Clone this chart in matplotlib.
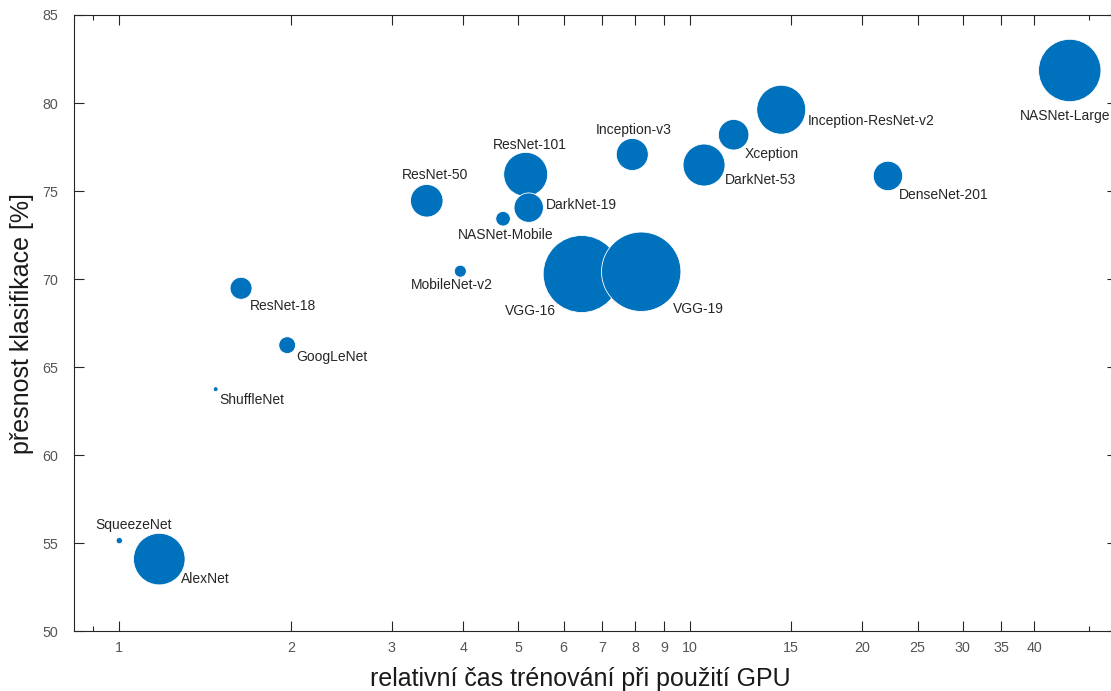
import numpy as np
import matplotlib
matplotlib.use("Agg")
import matplotlib.pyplot as plt
from matplotlib.ticker import FixedLocator, NullFormatter, FixedFormatter

# ---- data ----
site = ["SqueezeNet", "AlexNet", "ShuffleNet", "GoogLeNet", "ResNet-18",
        "ResNet-50", "ResNet-101", "DarkNet-19", "NASNet-Mobile", "MobileNet-v2",
        "VGG-16", "VGG-19", "Inception-v3", "DarkNet-53", "Xception",
        "Inception-ResNet-v2", "DenseNet-201", "NASNet-Large"]
cas = [1.0, 1.175, 1.475, 1.968, 1.634,
       3.455, 5.149, 5.212, 4.70, 3.956,
       6.453, 8.204, 7.914, 10.57, 11.91,
       14.43, 22.19, 46.19]
presnost = [55.15, 54.10, 63.75, 66.25, 69.48,
            74.45, 75.95, 74.06, 73.43, 70.45,
            70.29, 70.42, 77.08, 76.48, 78.20,
            79.62, 75.86, 81.85]
velikost = [3.5, 231, 2.0, 24.5, 42,
            92, 168, 75, 18.5, 12.5,
            515, 547, 89, 153, 81,
            208, 75, 338]

x_ticks = [1, 2, 3, 4, 5, 6, 7, 8, 9, 10, 15, 20, 25, 30, 35, 40]
x_minor = [0.9, 50]
y_ticks = [50, 55, 60, 65, 70, 75, 80, 85]

# label offsets in pixels (dx, dy) from bubble centre to label left/centre
offsets = {
    "SqueezeNet": (-24, -16), "AlexNet": (22, 20), "ShuffleNet": (4, 11),
    "GoogLeNet": (9, 12), "ResNet-18": (9, 18), "ResNet-50": (-25, -26),
    "ResNet-101": (-33, -29), "DarkNet-19": (17, -3), "NASNet-Mobile": (-45, 16),
    "MobileNet-v2": (-49, 14), "VGG-16": (-77, 37), "VGG-19": (32, 37),
    "Inception-v3": (-37, -24), "DarkNet-53": (21, 15), "Xception": (11, 19),
    "Inception-ResNet-v2": (27, 11), "DenseNet-201": (11, 19), "NASNet-Large": (-50, 46),
}

DPI = 100
W, H = 1111, 691
plt.rcParams['font.family'] = ['Liberation Sans', 'DejaVu Sans']

fig = plt.figure(figsize=(W / DPI, H / DPI), dpi=DPI)
ax_l, ax_r, ax_t, ax_b = 73.7, 1116.5, 15.0, 631.3
ax = fig.add_axes([ax_l / W, (H - ax_b) / H, (ax_r - ax_l) / W, (ax_b - ax_t) / H])

# bubble radius in px ~ sqrt(size * 2.88); convert to points^2 marker area
r_px = np.sqrt(np.array(velikost) * 2.88)
s = (2 * r_px * 72 / DPI) ** 2
ax.scatter(cas, presnost, s=s, c='#0072BD', edgecolors='white', linewidths=0.6, zorder=3)

for name, x, y in zip(site, cas, presnost):
    dx, dy = offsets[name]
    ax.annotate(name, (x, y), xytext=(dx, -dy), textcoords='offset pixels',
                ha='left', va='center', fontsize=10, color='#262626', zorder=4)

ax.set_xscale('log')
ax.set_xlim(10 ** ((ax_l - 119.3) / 571), 10 ** ((ax_r - 119.3) / 571))
ax.set_ylim(50, 85)

ax.xaxis.set_major_locator(FixedLocator(x_ticks))
ax.xaxis.set_major_formatter(FixedFormatter([str(t) for t in x_ticks]))
ax.xaxis.set_minor_locator(FixedLocator(x_minor))
ax.xaxis.set_minor_formatter(NullFormatter())
ax.yaxis.set_major_locator(FixedLocator(y_ticks))
ax.yaxis.set_minor_locator(FixedLocator([]))

spine_col = '#262626'
for sp in ax.spines.values():
    sp.set_color(spine_col)
    sp.set_linewidth(0.8)

ax.tick_params(axis='both', which='major', direction='in', length=7, width=0.8,
               color=spine_col, labelcolor='#555555', labelsize=10.3,
               top=True, right=True)
ax.tick_params(axis='x', which='major', pad=7)
ax.tick_params(axis='y', which='major', pad=11)
ax.tick_params(axis='x', which='minor', direction='in', length=3.5, width=0.8,
               color=spine_col, top=True)

ax.set_xlabel("relativní čas trénování při použití GPU", fontsize=18, color='#1a1a1a')
ax.set_ylabel("přesnost klasifikace [%]", fontsize=18, color='#1a1a1a')
ax.xaxis.label.set_va('center')
ax.xaxis.set_label_coords((580 - ax_l) / (ax_r - ax_l), -(679 - ax_b) / (ax_b - ax_t))
ax.yaxis.label.set_va('center')
ax.yaxis.set_label_coords(-(ax_l - 22) / (ax_r - ax_l), 0.5)

fig.savefig("out.png", dpi=DPI)
